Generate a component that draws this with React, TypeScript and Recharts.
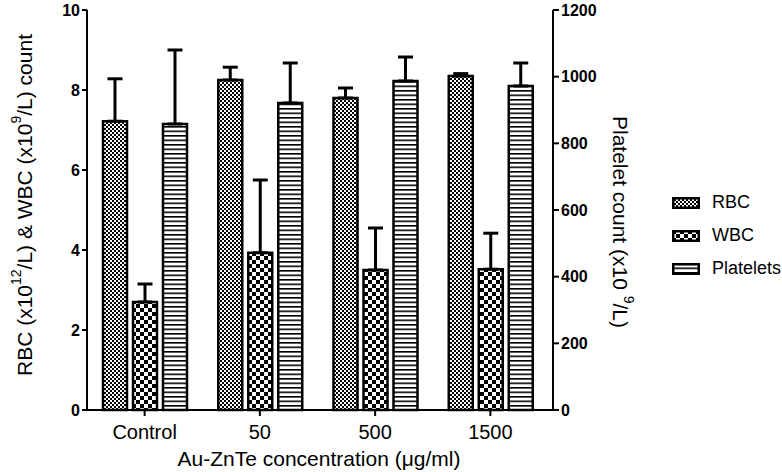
import React from 'react';
import { BarChart, Bar, XAxis, YAxis, ErrorBar } from 'recharts';

const categories = ['Control', '50', '500', '1500'];
const rbc = [7.22, 8.25, 7.8, 8.35];
const rbcErr = [1.06, 0.32, 0.25, 0.06];
const wbc = [2.7, 3.93, 3.5, 3.52];
const wbcErr = [0.45, 1.82, 1.05, 0.9];
const platelets = [858, 921, 987, 972];
const plateletsErr = [222, 120, 72, 69];
const leftTicks = [0, 2, 4, 6, 8, 10];
const rightTicks = [0, 200, 400, 600, 800, 1000, 1200];

const legendItems = [
  { name: 'RBC', fill: 'url(#patRbc)' },
  { name: 'WBC', fill: 'url(#patWbc)' },
  { name: 'Platelets', fill: 'url(#patPlt)' },
];

const data = categories.map((c, i) => ({
  name: c,
  rbc: rbc[i],
  rbcErr: [0, rbcErr[i]],
  wbc: wbc[i],
  wbcErr: [0, wbcErr[i]],
  platelets: platelets[i],
  plateletsErr: [0, plateletsErr[i]],
}));

const font = "Arial, 'Liberation Sans', sans-serif";

const LeftTitle = () => (
  <text
    x={24}
    y={205}
    transform="rotate(-90 24 205)"
    textAnchor="middle"
    dominantBaseline="central"
    fontFamily={font}
    fontSize={21}
    fill="#000"
  >
    <tspan>RBC (x10</tspan>
    <tspan fontSize={14} dy={-8}>12</tspan>
    <tspan dy={8}>/L) &amp; WBC (x10</tspan>
    <tspan fontSize={14} dy={-8}>9</tspan>
    <tspan dy={8}>/L) count</tspan>
  </text>
);

const RightTitle = () => (
  <text
    x={621}
    y={222}
    transform="rotate(90 621 222)"
    textAnchor="middle"
    dominantBaseline="central"
    fontFamily={font}
    fontSize={21}
    fill="#000"
  >
    <tspan>Platelet count (x10 </tspan>
    <tspan fontSize={14} dy={-8}>9</tspan>
    <tspan dy={8}>/L)</tspan>
  </text>
);

const BottomTitle = () => (
  <text x={319} y={466} textAnchor="middle" fontFamily={font} fontSize={21} fill="#000">
    Au-ZnTe concentration (μg/ml)
  </text>
);

export default function App() {
  return (
    <div style={{ position: 'absolute', left: 0, top: 0, width: 782, height: 472, background: '#fff' }}>
      <BarChart
        width={782}
        height={472}
        data={data}
        margin={{ top: 10, right: 169, left: 0, bottom: 22 }}
        barSize={24}
        barGap={6}
      >
        <defs>
          <pattern id="patRbc" patternUnits="userSpaceOnUse" width={4} height={4}>
            <rect width={4} height={4} fill="#fff" />
            <rect x={0} y={0} width={2} height={2} fill="#000" />
            <rect x={2} y={2} width={2} height={2} fill="#000" />
          </pattern>
          <pattern id="patWbc" patternUnits="userSpaceOnUse" width={8} height={8}>
            <rect width={8} height={8} fill="#fff" />
            <rect x={0} y={0} width={4} height={4} fill="#000" />
            <rect x={4} y={4} width={4} height={4} fill="#000" />
          </pattern>
          <pattern id="patPlt" patternUnits="userSpaceOnUse" width={4} height={4.5}>
            <rect width={4} height={4.5} fill="#fff" />
            <rect x={0} y={0} width={4} height={1.6} fill="#000" />
          </pattern>
        </defs>
        <XAxis
          dataKey="name"
          height={40}
          padding={{ left: 0, right: 5 }}
          axisLine={{ stroke: '#000', strokeWidth: 2 }}
          tickLine={{ stroke: '#000', strokeWidth: 2 }}
          tickSize={6}
          tickMargin={9}
          tick={{ fill: '#000', fontSize: 20, fontFamily: font }}
          label={{ content: () => <BottomTitle /> }}
        />
        <YAxis
          yAxisId="left"
          width={87}
          domain={[0, 10]}
          ticks={leftTicks}
          interval={0}
          axisLine={{ stroke: '#000', strokeWidth: 2 }}
          tickLine={{ stroke: '#000', strokeWidth: 2 }}
          tickSize={5}
          tickMargin={2}
          tick={{ fill: '#000', fontSize: 16, fontWeight: 'bold', fontFamily: font }}
          label={{ content: () => <LeftTitle /> }}
        />
        <YAxis
          yAxisId="right"
          orientation="right"
          width={60}
          domain={[0, 1200]}
          ticks={rightTicks}
          interval={0}
          axisLine={{ stroke: '#000', strokeWidth: 2 }}
          tickLine={{ stroke: '#000', strokeWidth: 2 }}
          tickSize={6}
          tickMargin={2}
          tick={{ fill: '#000', fontSize: 16, fontWeight: 'bold', fontFamily: font }}
          label={{ content: () => <RightTitle /> }}
        />
        <Bar yAxisId="left" dataKey="rbc" fill="url(#patRbc)" stroke="#000" strokeWidth={2.5} isAnimationActive={false}>
          <ErrorBar dataKey="rbcErr" direction="y" width={7.5} stroke="#000" strokeWidth={3} />
        </Bar>
        <Bar yAxisId="left" dataKey="wbc" fill="url(#patWbc)" stroke="#000" strokeWidth={2.5} isAnimationActive={false}>
          <ErrorBar dataKey="wbcErr" direction="y" width={7.5} stroke="#000" strokeWidth={3} />
        </Bar>
        <Bar yAxisId="right" dataKey="platelets" fill="url(#patPlt)" stroke="#000" strokeWidth={2.5} isAnimationActive={false}>
          <ErrorBar dataKey="plateletsErr" direction="y" width={7.5} stroke="#000" strokeWidth={3} />
        </Bar>
      </BarChart>
      <div style={{ position: 'absolute', left: 672, top: 186, fontFamily: font, fontSize: 18, color: '#000' }}>
        {legendItems.map((item) => (
          <div key={item.name} style={{ display: 'flex', alignItems: 'center', height: 33 }}>
            <svg width={28} height={12} style={{ marginRight: 12 }}>
              <rect x={1.25} y={1.25} width={25.5} height={9.5} fill={item.fill} stroke="#000" strokeWidth={2.5} />
            </svg>
            <span>{item.name}</span>
          </div>
        ))}
      </div>
    </div>
  );
}
